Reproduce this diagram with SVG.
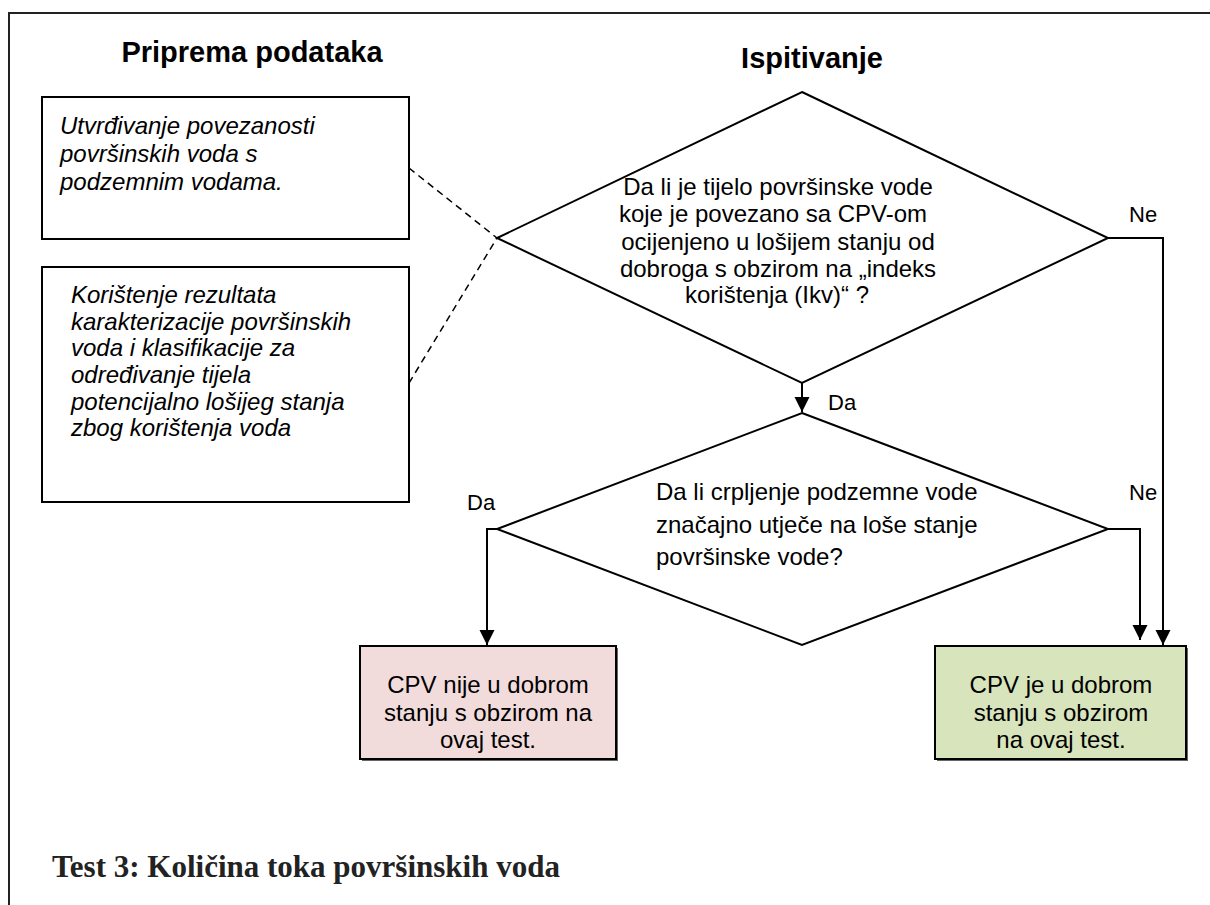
<svg xmlns="http://www.w3.org/2000/svg" width="1210" height="905" viewBox="0 0 1210 905">
  <defs>
    <marker id="arrow" markerUnits="userSpaceOnUse" markerWidth="16" markerHeight="16" viewBox="0 0 16 16" refX="15" refY="8" orient="auto">
      <path d="M0,0.5 L15,8 L0,15.5 Z" fill="#000"/>
    </marker>
    <style>
      .frame { fill: none; stroke: #222; stroke-width: 2; }
      .box { fill: #fff; stroke: #000; stroke-width: 2; }
      .diamond { fill: #fff; stroke: #000; stroke-width: 2; stroke-linejoin: miter; }
      .bad { fill: #f2dcdb; stroke: #000; stroke-width: 2; }
      .good { fill: #d7e4bc; stroke: #000; stroke-width: 2; }
      .shade { fill: #666; }
      .link { fill: none; stroke: #000; stroke-width: 2; }
      .dash { fill: none; stroke: #000; stroke-width: 1.5; stroke-dasharray: 7 5; }
      .title { font-family: "Liberation Sans", Arial, sans-serif; font-weight: bold; font-size: 29px; fill: #000; text-anchor: middle; }
      .note { font-family: "Liberation Sans", Arial, sans-serif; font-style: italic; font-size: 24px; fill: #000; }
      .q { font-family: "Liberation Sans", Arial, sans-serif; font-size: 24px; fill: #000; }
      .mid { text-anchor: middle; }
      .lbl { font-family: "Liberation Sans", Arial, sans-serif; font-size: 22px; fill: #000; }
      .caption { font-family: "Liberation Serif", "Times New Roman", serif; font-weight: bold; font-size: 31px; fill: #222; }
    </style>
  </defs>

  <rect width="1210" height="905" fill="#fff"/>

  <!-- outer frame (top and left edges) -->
  <path class="frame" d="M9,905 L9,13 L1210,13"/>

  <!-- column headings -->
  <text class="title" x="252" y="62">Priprema podataka</text>
  <text class="title" x="812" y="68">Ispitivanje</text>

  <!-- data preparation notes -->
  <g id="note-linkage">
    <rect class="box" x="42" y="97" width="367" height="142"/>
    <text class="note" x="60" y="134">Utvrđivanje povezanosti</text>
    <text class="note" x="60" y="162">površinskih voda s</text>
    <text class="note" x="60" y="190">podzemnim vodama.</text>
  </g>

  <g id="note-characterisation">
    <rect class="box" x="42" y="267" width="367" height="235"/>
    <text class="note" x="71" y="303">Korištenje rezultata</text>
    <text class="note" x="71" y="330">karakterizacije površinskih</text>
    <text class="note" x="71" y="356">voda i klasifikacije za</text>
    <text class="note" x="71" y="383">određivanje tijela</text>
    <text class="note" x="71" y="410">potencijalno lošijeg stanja</text>
    <text class="note" x="71" y="436">zbog korištenja voda</text>
  </g>

  <!-- decision 1 -->
  <g id="decision-surface-status">
    <polygon class="diamond" points="802,92 1108,238 802,383 497,238"/>
    <text class="q mid" x="778" y="195">Da li je tijelo površinske vode</text>
    <text class="q mid" x="773" y="222">koje je povezano sa CPV-om</text>
    <text class="q mid" x="778" y="250">ocijenjeno u lošijem stanju od</text>
    <text class="q mid" x="778" y="277">dobroga s obzirom na „indeks</text>
    <text class="q mid" x="777" y="303">korištenja (Ikv)“ ?</text>
  </g>

  <!-- decision 2 -->
  <g id="decision-abstraction">
    <polygon class="diamond" points="802,413 1108,529 802,645 497,529"/>
    <text class="q" x="656" y="500">Da li crpljenje podzemne vode</text>
    <text class="q" x="656" y="533">značajno utječe na loše stanje</text>
    <text class="q" x="656" y="565">površinske vode?</text>
  </g>

  <!-- outcomes -->
  <g id="result-poor">
    <rect class="shade" x="362" y="648" width="256" height="113"/>
    <rect class="bad" x="360" y="646" width="256" height="113"/>
    <text class="q mid" x="488" y="693">CPV nije u dobrom</text>
    <text class="q mid" x="488" y="721">stanju s obzirom na</text>
    <text class="q mid" x="488" y="748">ovaj test.</text>
  </g>

  <g id="result-good">
    <rect class="shade" x="937" y="648" width="251" height="113"/>
    <rect class="good" x="935" y="646" width="251" height="113"/>
    <text class="q mid" x="1061" y="693">CPV je u dobrom</text>
    <text class="q mid" x="1061" y="721">stanju s obzirom</text>
    <text class="q mid" x="1061" y="748">na ovaj test.</text>
  </g>

  <!-- connectors -->
  <g id="connectors">
    <path class="dash" d="M409,168 L497,238"/>
    <path class="dash" d="M409,383 L497,238"/>
    <path class="link" d="M802,383 L802,412" marker-end="url(#arrow)"/>
    <path class="link" d="M1108,238 L1163,238 L1163,645" marker-end="url(#arrow)"/>
    <path class="link" d="M1108,529 L1140,529 L1140,640" marker-end="url(#arrow)"/>
    <path class="link" d="M497,529 L487,529 L487,645" marker-end="url(#arrow)"/>
    <text class="lbl" x="828" y="410">Da</text>
    <text class="lbl" x="1129" y="222">Ne</text>
    <text class="lbl" x="1129" y="500">Ne</text>
    <text class="lbl" x="467" y="510">Da</text>
  </g>

  <!-- caption -->
  <text class="caption" x="52" y="877">Test 3: Količina toka površinskih voda</text>
</svg>
